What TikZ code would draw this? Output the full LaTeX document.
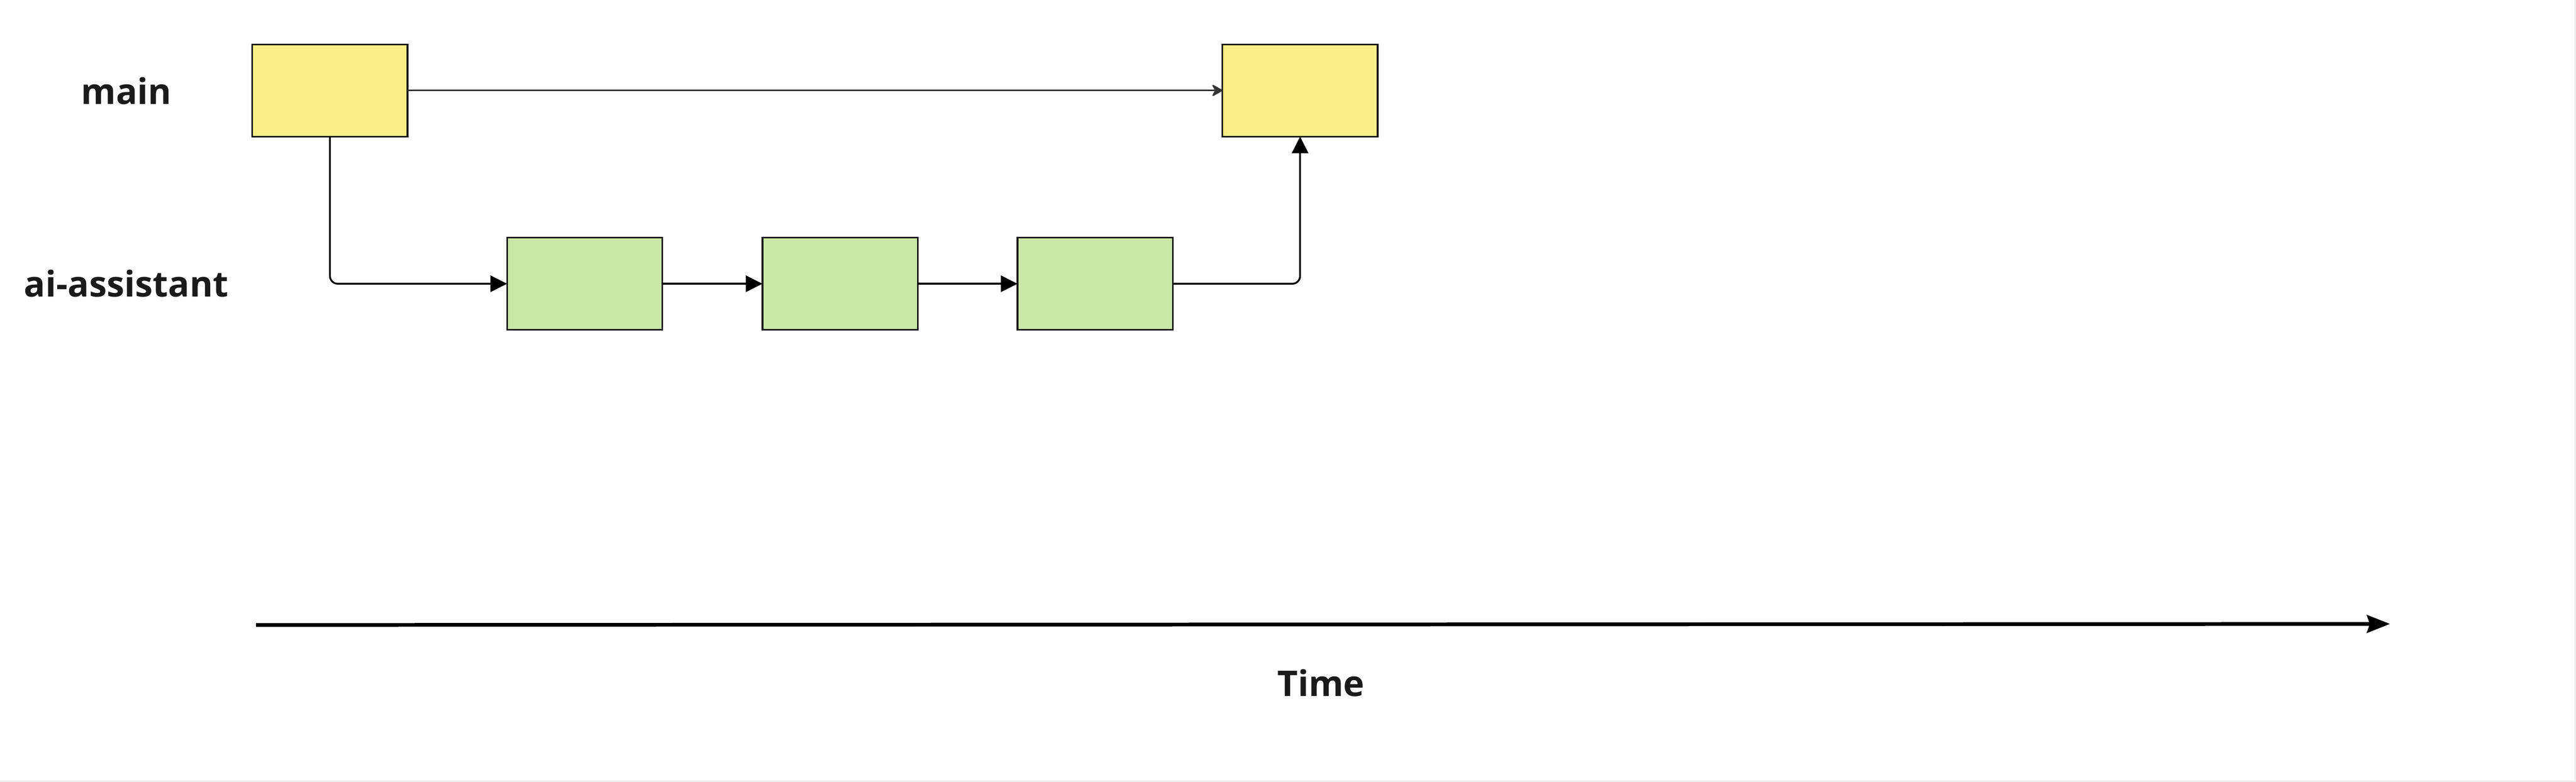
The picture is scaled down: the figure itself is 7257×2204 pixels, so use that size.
\documentclass[tikz,border=0pt]{standalone}
\usepackage{fontspec}
\setmainfont{Open Sans}
\usetikzlibrary{arrows.meta}
\definecolor{boxyellow}{RGB}{249,239,134}
\definecolor{boxgreen}{RGB}{201,232,167}
\definecolor{ink}{RGB}{26,26,26}
\definecolor{thinline}{RGB}{51,51,51}
\definecolor{framegray}{RGB}{238,238,238}
\tikzset{
  commit/.style={draw=ink, line width=0.45pt, minimum width=43.7pt, minimum height=26pt, inner sep=0pt, outer sep=0pt},
  mainbox/.style={commit, fill=boxyellow},
  branchbox/.style={commit, fill=boxgreen},
  lanelabel/.style={font=\bfseries\fontsize{10}{12}\selectfont, text=ink, anchor=base, inner sep=0pt},
  mergeline/.style={draw=thinline, line width=0.4pt, -{Stealth[length=3.4pt, width=3.8pt, inset=1.1pt, round]}},
  flowline/.style={draw=black, line width=0.5pt, -{Triangle[length=4.7pt, width=4.6pt]}},
  timeline/.style={draw=black, line width=1.05pt, -{Stealth[length=6.5pt, width=5pt, inset=0.8pt]}}
}
\begin{document}
\begin{tikzpicture}[x=0.1pt, y=-0.1pt]
  \useasboundingbox (0,0) rectangle (7257,2204);
  \fill[white] (0,0) rectangle (7257,2204);
  \draw[framegray, line width=0.4pt] (7255,0) -- (7255,2202) -- (0,2202);

  % labels
  \node[lanelabel] (lmain) at (356,294) {main};
  \node[lanelabel] (lai) at (356,837) {ai-assistant};
  \node[lanelabel] (ltime) at (3721,1963) {Time};

  % commits
  \node[mainbox] (m1) at (929.5,255) {};
  \node[mainbox] (m2) at (3662.5,255) {};
  \node[branchbox] (g1) at (1647,800) {};
  \node[branchbox] (g2) at (2366.5,800) {};
  \node[branchbox] (g3) at (3085,800) {};

  % connectors
  \draw[mergeline] (m1.east) -- (m2.west);
  \draw[flowline, rounded corners=2.2pt] (m1.south) |- (g1.west);
  \draw[flowline] (g1.east) -- (g2.west);
  \draw[flowline] (g2.east) -- (g3.west);
  \draw[flowline, rounded corners=2.2pt] (g3.east) -| (m2.south);

  % time axis
  \coordinate (t0) at (721,1762);
  \coordinate (t1) at (6733,1759);
  \draw[timeline] (t0) -- (t1);
\end{tikzpicture}
\end{document}
